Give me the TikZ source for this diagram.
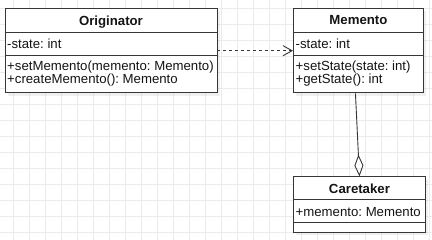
\documentclass[tikz,border=0pt]{standalone}
\usepackage{fontspec}
\setmainfont{Liberation Sans}
\usetikzlibrary{arrows.meta,shadows}
\definecolor{gridline}{HTML}{EBEBEB}
\definecolor{umlline}{HTML}{363636}
\begin{document}
\frenchspacing
\begin{tikzpicture}[x=1pt,y=-1pt,
  every node/.style={font=\fontsize{13.2}{13.5}\selectfont, text=black!92, inner sep=0pt},
  classframe/.style={draw=umlline, line width=0.9pt, fill=white, anchor=north west,
    drop shadow={shadow xshift=3pt, shadow yshift=-3pt, fill=black, opacity=0.06}},
  divider/.style={draw=umlline, line width=0.9pt},
  member/.style={anchor=base west},
  classname/.style={anchor=base, font=\fontsize{13.2}{13.5}\selectfont\bfseries},
  dependency/.style={draw=umlline, line width=0.9pt, dash pattern=on 3pt off 3pt,
    -{Straight Barb[length=9pt,width=10pt,line width=0.9pt]}},
  aggregation/.style={draw=umlline, line width=0.9pt,
    -{Diamond[open,length=22pt,width=9pt,line width=0.9pt]}}
]
% canvas and grid
\useasboundingbox (0,0) rectangle (432,240);
\fill[white] (0,0) rectangle (432,240);
\foreach \k in {0,...,26} \draw[gridline, line width=1pt] (13.3+16*\k,0) -- (13.3+16*\k,240);
\foreach \k in {0,...,14} \draw[gridline, line width=1pt] (0,8.3+16*\k) -- (432,8.3+16*\k);

% Originator
\node[classframe, minimum width=212pt, minimum height=84.5pt] (orig) at (4.5,8) {};
\draw[divider] ([yshift=-24pt]orig.north west) -- ([yshift=-24pt]orig.north east);
\draw[divider] ([yshift=-47.5pt]orig.north west) -- ([yshift=-47.5pt]orig.north east);
\node[classname] (origname) at ([yshift=-17.5pt]orig.north) {Originator};
\node[member] (origstate) at ([xshift=2.5pt,yshift=-40.3pt]orig.north west) {-state: int};
\node[member] (origset) at ([xshift=2.5pt,yshift=-62.7pt]orig.north west) {+setMemento(memento: Memento)};
\node[member] (origcreate) at ([xshift=2.5pt,yshift=-76pt]orig.north west) {+createMemento(): Memento};

% Memento
\node[classframe, minimum width=130pt, minimum height=84.5pt] (mem) at (293,8) {};
\draw[divider] ([yshift=-24pt]mem.north west) -- ([yshift=-24pt]mem.north east);
\draw[divider] ([yshift=-47.5pt]mem.north west) -- ([yshift=-47.5pt]mem.north east);
\node[classname] (memname) at ([yshift=-17pt]mem.north) {Memento};
\node[member] (memstate) at ([xshift=2.5pt,yshift=-40.3pt]mem.north west) {-state: int};
\node[member] (memset) at ([xshift=2.5pt,yshift=-62.3pt]mem.north west) {+setState(state: int)};
\node[member] (memget) at ([xshift=2.5pt,yshift=-76pt]mem.north west) {+getState(): int};

% Caretaker
\node[classframe, minimum width=132pt, minimum height=55.5pt] (care) at (293,176.5) {};
\draw[divider] ([yshift=-23pt]care.north west) -- ([yshift=-23pt]care.north east);
\draw[divider] ([yshift=-46pt]care.north west) -- ([yshift=-46pt]care.north east);
\node[classname] (carename) at ([yshift=-17pt]care.north) {Caretaker};
\node[member] (carememento) at ([xshift=2.5pt,yshift=-39.8pt]care.north west) {+memento: Memento};

% relations
\draw[dependency] (orig.east) -- (mem.west);
\draw[aggregation] ([xshift=-3pt]mem.south) -- (care.north);
\end{tikzpicture}
\end{document}
